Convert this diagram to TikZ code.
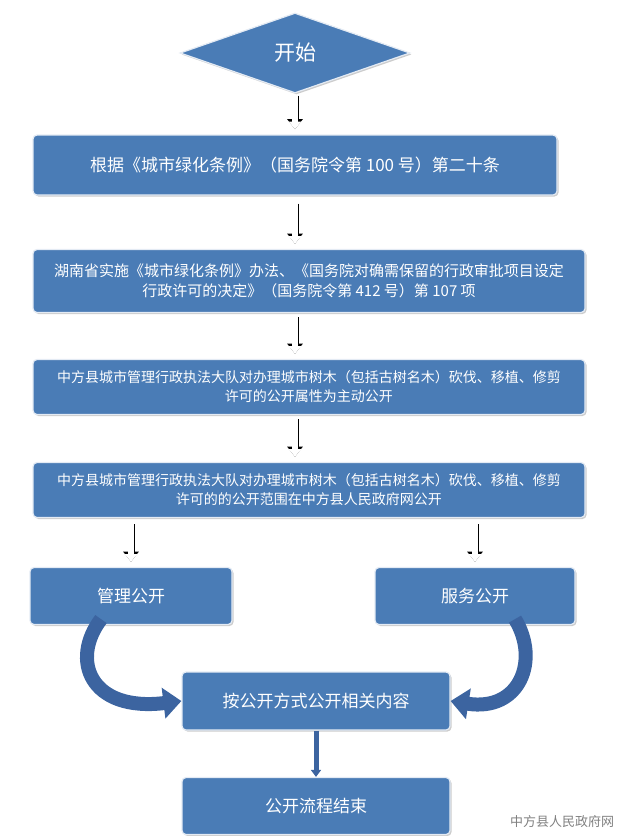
\documentclass[tikz,border=0pt]{standalone}
\usepackage{fontspec}
\setmainfont{Noto Sans CJK SC}
\usetikzlibrary{shapes.geometric,arrows.meta,shadows}
\definecolor{boxblue}{RGB}{74,124,182}
\definecolor{arrowblue}{RGB}{60,100,160}
\tikzset{
  flowbox/.style={draw=white!85!boxblue, line width=1.2pt, fill=boxblue, rounded corners=4pt,
    text=white, align=center, drop shadow={shadow xshift=1.5pt,shadow yshift=-1.5pt,opacity=0.4}},
  hollow/.style={preaction={draw=black, line width=7pt, -{Triangle[width=15pt,length=10pt]}},
    draw=white, line width=5.4pt, shorten >=1.2pt, -{Triangle[width=12pt,length=7.5pt]}},
  curvearrow/.style={line width=14pt, draw=arrowblue, -{Triangle[width=30pt,length=18pt]}}
}
\begin{document}
\begin{tikzpicture}[x=1pt,y=-1pt]
\useasboundingbox (0,0) rectangle (629,836);
\node (start) [diamond, flowbox, rounded corners=0pt, minimum width=230, minimum height=80, aspect=2.9,
  font=\fontsize{21}{24}\selectfont] at (295,53) {开始};
\node (b1) [flowbox, minimum width=524, minimum height=60, font=\fontsize{17}{20}\selectfont]
  at (295,165) {根据《城市绿化条例》（国务院令第 100 号）第二十条};
\node (b2) [flowbox, minimum width=552, minimum height=63, font=\fontsize{15}{20}\selectfont]
  at (309,281) {湖南省实施《城市绿化条例》办法、《国务院对确需保留的行政审批项目设定\\行政许可的决定》（国务院令第 412 号）第 107 项};
\node (b3) [flowbox, minimum width=552, minimum height=55, font=\fontsize{14}{19}\selectfont]
  at (309,387) {中方县城市管理行政执法大队对办理城市树木（包括古树名木）砍伐、移植、修剪\\许可的公开属性为主动公开};
\node (b4) [flowbox, minimum width=552, minimum height=55, font=\fontsize{14}{19}\selectfont]
  at (309,490) {中方县城市管理行政执法大队对办理城市树木（包括古树名木）砍伐、移植、修剪\\许可的的公开范围在中方县人民政府网公开};
\node (mgmt) [flowbox, minimum width=202, minimum height=57, font=\fontsize{17}{20}\selectfont]
  at (131,596) {管理公开};
\node (serv) [flowbox, minimum width=200, minimum height=57, font=\fontsize{17}{20}\selectfont]
  at (475,596) {服务公开};
\node (pub) [flowbox, minimum width=268, minimum height=58, font=\fontsize{17}{20}\selectfont]
  at (316,701) {按公开方式公开相关内容};
\node (end) [flowbox, minimum width=268, minimum height=57, font=\fontsize{17}{20}\selectfont]
  at (316,806) {公开流程结束};
\node (mark) [text=gray, font=\fontsize{13}{15}\selectfont] at (562,822) {中方县人民政府网};

\draw [hollow] ([yshift=-2pt]start.south) -- ([yshift=4pt]b1.north);
\draw [hollow] ([yshift=-8pt]b1.south -| start) -- ([yshift=4pt]b2.north -| start);
\draw [hollow] ([yshift=-4pt]b2.south -| start) -- ([yshift=4pt]b3.north -| start);
\draw [hollow] ([yshift=-4pt]b3.south -| start) -- ([yshift=4pt]b4.north -| start);
\draw [hollow] ([yshift=-6pt]b4.south -| mgmt) -- ([yshift=4pt]mgmt.north);
\draw [hollow] ([yshift=-6pt]b4.south -| serv) -- ([yshift=4pt]serv.north);
\draw [curvearrow] ([xshift=-30pt,yshift=6pt]mgmt.south) .. controls (70,660) and (90,712) .. (pub.west);
\draw [curvearrow] ([xshift=40pt,yshift=6pt]serv.south) .. controls (540,660) and (520,712) .. (pub.east);
\draw [draw=arrowblue, line width=5pt, -{Triangle[width=10pt,length=7pt]}] (pub.south) -- (end.north);
\end{tikzpicture}
\end{document}
